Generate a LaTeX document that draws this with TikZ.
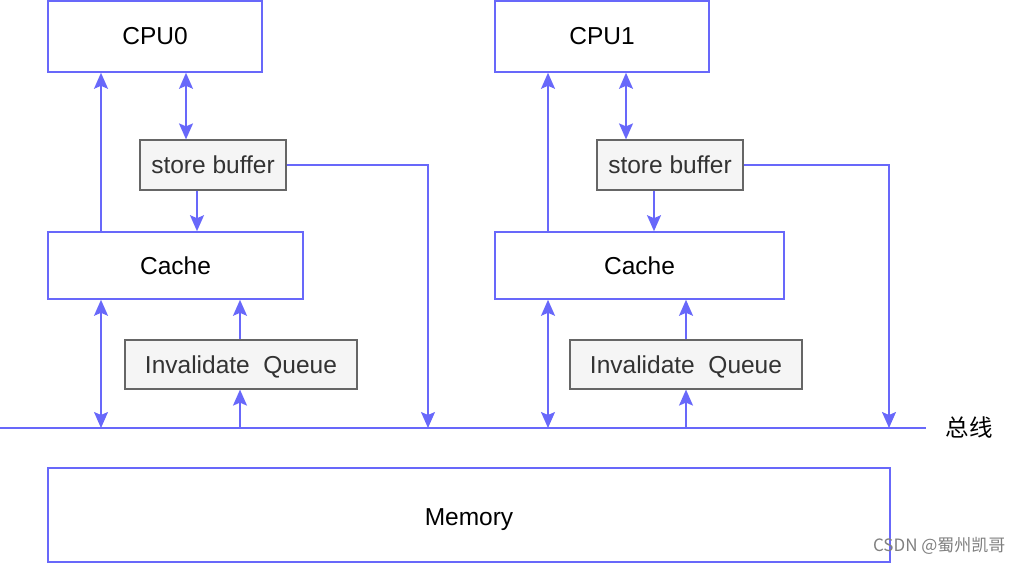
\documentclass[tikz,border=0pt]{standalone}
\usepackage{fontspec}
\setmainfont{Liberation Sans}
\newfontfamily\cjk{Noto Sans CJK SC}
\usetikzlibrary{arrows.meta,calc}
\definecolor{lineblue}{RGB}{104,104,250}
\definecolor{boxgray}{RGB}{245,245,245}
\definecolor{boxedge}{RGB}{102,102,102}
\tikzset{
  bluebox/.style={draw=lineblue,line width=1.6pt,fill=white,inner sep=0pt,font=\fontsize{24.5}{28}\selectfont},
  graybox/.style={draw=boxedge,line width=1.2pt,fill=boxgray,inner sep=0pt,text=black!80,font=\fontsize{24.5}{28}\selectfont},
  conn/.style={draw=lineblue,line width=1.6pt},
  arr/.style={conn,-{Stealth[length=16pt,width=14pt,inset=3pt]}},
  darr/.style={conn,{Stealth[length=16pt,width=14pt,inset=3pt]}-{Stealth[length=16pt,width=14pt,inset=3pt]}},
}
\begin{document}
\begin{tikzpicture}[x=1pt,y=-1pt]
\useasboundingbox (0,0) rectangle (1024,564);
% CPU side 0
\node[bluebox,minimum width=214pt,minimum height=71pt] (cpu0) at (155,36.5) {CPU0};
\node[graybox,minimum width=146pt,minimum height=50pt] (sb0) at (213,165) {store buffer};
\node[bluebox,minimum width=255pt,minimum height=67pt] (cache0) at (175.5,265.5) {Cache};
\node[graybox,minimum width=232pt,minimum height=49pt,text height=17.5pt,text depth=0pt] (iq0) at (241,364.5) {Invalidate\ \ Queue};
% CPU side 1
\node[bluebox,minimum width=214pt,minimum height=71pt] (cpu1) at (602,36.5) {CPU1};
\node[graybox,minimum width=146pt,minimum height=50pt] (sb1) at (670,165) {store buffer};
\node[bluebox,minimum width=289pt,minimum height=67pt] (cache1) at (639.5,265.5) {Cache};
\node[graybox,minimum width=232pt,minimum height=49pt,text height=17.5pt,text depth=0pt] (iq1) at (686,364.5) {Invalidate\ \ Queue};
% memory
\node[bluebox,minimum width=842pt,minimum height=94pt,text height=21.5pt,text depth=0pt] (mem) at (469,515) {Memory};
% bus
\coordinate (busL) at (0,428);
\coordinate (busR) at (926,428);
\draw[conn] (busL) -- (busR);
\node[font=\cjk\fontsize{23.5}{27}\selectfont,anchor=west] (buslabel) at (942,428) {总线};
% side 0 connectors
\draw[arr] (cache0.north -| 101,0) -- (cpu0.south -| 101,0);
\draw[darr] (cpu0.south -| 186,0) -- (sb0.north -| 186,0);
\draw[arr] (sb0.south -| 197,0) -- (cache0.north -| 197,0);
\draw[arr] (sb0.east) -| (busL -| 428,0);
\draw[darr] (cache0.south -| 101,0) -- (busL -| 101,0);
\draw[arr] (iq0.north -| 240,0) -- (cache0.south -| 240,0);
\draw[arr] (busL -| 240,0) -- (iq0.south -| 240,0);
% side 1 connectors
\draw[arr] (cache1.north -| 548,0) -- (cpu1.south -| 548,0);
\draw[darr] (cpu1.south -| 626,0) -- (sb1.north -| 626,0);
\draw[arr] (sb1.south -| 654,0) -- (cache1.north -| 654,0);
\draw[arr] (sb1.east) -| (busL -| 889,0);
\draw[darr] (cache1.south -| 548,0) -- (busL -| 548,0);
\draw[arr] (iq1.north -| 686,0) -- (cache1.south -| 686,0);
\draw[arr] (busL -| 686,0) -- (iq1.south -| 686,0);
% watermark
\node[font=\cjk\fontsize{17}{19}\selectfont,text=black!50,anchor=east] (wm) at (1009,546) {CSDN @蜀州凯哥};
\end{tikzpicture}
\end{document}
